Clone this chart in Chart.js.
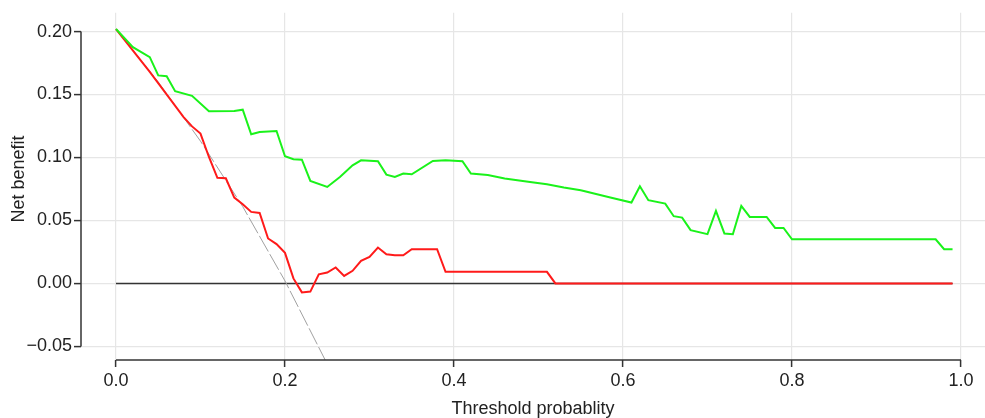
<!DOCTYPE html>
<html>
<head>
<meta charset="utf-8">
<script src="https://cdn.jsdelivr.net/npm/chart.js@4/dist/chart.umd.min.js"></script>
<style>
  html, body { margin: 0; padding: 0; background: #fff; }
  #wrap { width: 985px; height: 418px; position: relative; }
</style>
</head>
<body>
<div id="wrap"><canvas id="dcaChart"></canvas></div>
<script>
// 决策曲线数据
const xTicks = [0, 0.2, 0.4, 0.6, 0.8, 1.0];
const yTicks = [-0.05, 0, 0.05, 0.10, 0.15, 0.20];
const xTitle = 'Threshold probablity';
const yTitle = 'Net benefit';

// 绿色模型
const greenThresh = [0, 0.02, 0.04, 0.05, 0.06, 0.07, 0.09, 0.11, 0.14, 0.15, 0.16, 0.17, 0.19, 0.20,
    0.21, 0.22, 0.23, 0.25, 0.265, 0.28, 0.29, 0.31, 0.32, 0.33, 0.34, 0.35, 0.375, 0.39, 0.41, 0.42,
    0.44, 0.46, 0.49, 0.51, 0.53, 0.55, 0.585, 0.61, 0.62, 0.63, 0.65, 0.66, 0.67, 0.68, 0.70, 0.71,
    0.72, 0.73, 0.74, 0.75, 0.77, 0.78, 0.79, 0.80, 0.97, 0.98, 0.99];
const greenNB = [0.202, 0.1876, 0.1797, 0.1652, 0.1646, 0.1527, 0.149, 0.1368, 0.1369, 0.138, 0.1184, 0.1202, 0.121, 0.101,
    0.0986, 0.0983, 0.0814, 0.0766, 0.0845, 0.0938, 0.0978, 0.097, 0.0864, 0.0845, 0.0872, 0.0867, 0.0972, 0.0978, 0.097, 0.0872,
    0.0861, 0.0833, 0.0806, 0.0787, 0.0761, 0.074, 0.0682, 0.0642, 0.0772, 0.0661, 0.0634, 0.0534, 0.0523, 0.0423, 0.0391, 0.0576,
    0.0397, 0.0391, 0.0615, 0.0528, 0.0528, 0.0441, 0.0441, 0.0351, 0.0351, 0.0272, 0.0272];

// 红色模型
const redThresh = [0, 0.04, 0.08, 0.09, 0.10, 0.11, 0.12, 0.13, 0.14, 0.15, 0.16, 0.17, 0.18, 0.19, 0.20,
    0.21, 0.22, 0.23, 0.24, 0.25, 0.26, 0.27, 0.28, 0.29, 0.30, 0.31, 0.32, 0.33, 0.34, 0.35, 0.38,
    0.39, 0.51, 0.52, 0.99];
const redNB = [0.202, 0.168, 0.1321, 0.1247, 0.119, 0.1004, 0.0839, 0.0835, 0.0682, 0.0629, 0.0568, 0.056, 0.0357, 0.0312, 0.0243,
    0.004, -0.0071, -0.0065, 0.0072, 0.0086, 0.0127, 0.006, 0.01, 0.0179, 0.0211, 0.0285, 0.0232, 0.0224, 0.0224, 0.0272, 0.0272,
    0.0092, 0.0092, 0, 0];

// 全部治疗（灰色虚线）
const allThresh = [0, 0.05, 0.10, 0.15, 0.20, 0.25];
const allNB = [0.202, 0.160, 0.113, 0.061, 0.002, -0.064];

// 全不治疗（黑线）
const noneThresh = [0, 0.99];
const noneNB = [0, 0];

// 组合成点
function toPoints(xs, ys) {
    return xs.map((x, i) => ({ x: x, y: ys[i] }));
}

const textColor = '#222';
const fontFamily = "'Liberation Sans', Arial, Helvetica, sans-serif";

// R风格坐标轴和标题
const rAxesPlugin = {
    id: 'rAxes',
    afterDraw(chart) {
        const ctx = chart.ctx;
        const xs = chart.scales.x;
        const ys = chart.scales.y;
        const area = chart.chartArea;
        ctx.save();
        ctx.strokeStyle = '#333';
        ctx.lineWidth = 1.5;
        // x轴线
        ctx.beginPath();
        ctx.moveTo(xs.getPixelForValue(xTicks[0]), area.bottom);
        ctx.lineTo(xs.getPixelForValue(xTicks[xTicks.length - 1]), area.bottom);
        ctx.stroke();
        // y轴线
        ctx.beginPath();
        ctx.moveTo(area.left, ys.getPixelForValue(yTicks[0]));
        ctx.lineTo(area.left, ys.getPixelForValue(yTicks[yTicks.length - 1]));
        ctx.stroke();
        // 标题
        ctx.fillStyle = textColor;
        ctx.font = '18px ' + fontFamily;
        ctx.textAlign = 'center';
        ctx.textBaseline = 'middle';
        ctx.fillText(xTitle, (area.left + area.right) / 2, area.bottom + 49);
        ctx.translate(19, 179);
        ctx.rotate(-Math.PI / 2);
        ctx.fillText(yTitle, 0, 0);
        ctx.restore();
    }
};

function formatTick(v) {
    return v.toFixed(2).replace('-', '\u2212');
}

const ctx = document.getElementById('dcaChart');
new Chart(ctx, {
    type: 'line',
    data: {
        datasets: [{
            label: 'green',
            data: toPoints(greenThresh, greenNB),
            borderColor: '#1AF21A',
            borderWidth: 2,
            pointRadius: 0,
            tension: 0
        }, {
            label: 'red',
            data: toPoints(redThresh, redNB),
            borderColor: '#FF1A1A',
            borderWidth: 2,
            pointRadius: 0,
            tension: 0
        }, {
            label: 'all',
            data: toPoints(allThresh, allNB),
            borderColor: '#A0A0A0',
            borderWidth: 1,
            borderDash: [18, 3],
            pointRadius: 0,
            tension: 0
        }, {
            label: 'none',
            data: toPoints(noneThresh, noneNB),
            borderColor: '#333',
            borderWidth: 1.5,
            pointRadius: 0,
            tension: 0
        }]
    },
    options: {
        responsive: true,
        maintainAspectRatio: false,
        animation: false,
        layout: { padding: { top: 12, left: 0, right: 0, bottom: 0 } },
        plugins: {
            legend: { display: false },
            tooltip: { enabled: false }
        },
        scales: {
            x: {
                type: 'linear',
                min: -0.0414,
                max: 1.0284,
                afterBuildTicks: scale => { scale.ticks = xTicks.map(v => ({ value: v })); },
                afterFit: scale => { scale.height = 58; },
                border: { display: false },
                grid: {
                    color: '#E6E6E6',
                    lineWidth: 1.2,
                    tickColor: '#333',
                    tickWidth: 1.5,
                    tickLength: 7
                },
                ticks: {
                    color: textColor,
                    padding: 3,
                    maxRotation: 0,
                    font: { family: fontFamily, size: 18 },
                    callback: v => Number(v).toFixed(1)
                }
            },
            y: {
                type: 'linear',
                min: -0.0608,
                max: 0.2149,
                afterBuildTicks: scale => { scale.ticks = yTicks.map(v => ({ value: v })); },
                afterFit: scale => { scale.width = 81; },
                border: { display: false },
                grid: {
                    color: '#E6E6E6',
                    lineWidth: 1.2,
                    tickColor: '#333',
                    tickWidth: 1.5,
                    tickLength: 7
                },
                ticks: {
                    color: textColor,
                    padding: 2,
                    font: { family: fontFamily, size: 18 },
                    callback: v => formatTick(Number(v))
                }
            }
        }
    },
    plugins: [rAxesPlugin]
});
</script>
</body>
</html>
